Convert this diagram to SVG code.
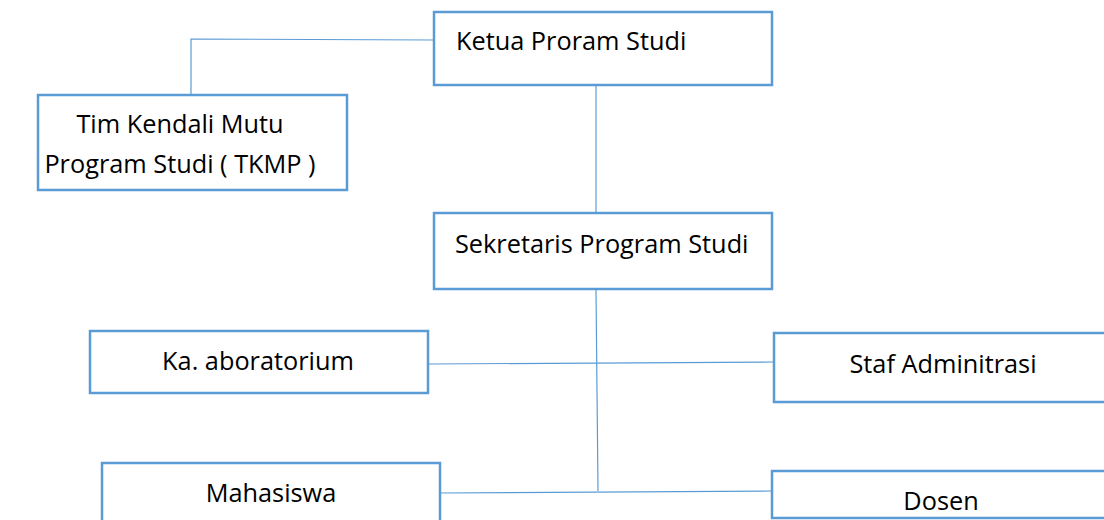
<svg xmlns="http://www.w3.org/2000/svg" width="1104" height="520" viewBox="0 0 1104 520">
<style>
.box{fill:#fff;stroke:#5b9bd5;stroke-width:2.5}
.ln{fill:none;stroke:#5b9bd5;stroke-width:1.2}
text{font-family:"Open Sans","Liberation Sans",sans-serif;font-size:25.3px;fill:#000}
.c{text-anchor:middle}
</style>
<rect width="1104" height="520" fill="#fff"/>
<g id="connectors">
<polyline class="ln" points="433,40 191,39 191,95"/>
<line class="ln" x1="596" y1="86" x2="596" y2="212"/>
<line class="ln" x1="596" y1="290" x2="598" y2="491"/>
<line class="ln" x1="428" y1="364" x2="773" y2="362"/>
<line class="ln" x1="440" y1="493" x2="772" y2="491"/>
</g>
<g id="ketua">
<rect class="box" x="434" y="12" width="338" height="73"/>
<text x="456" y="50">Ketua Proram Studi</text>
</g>
<g id="tkmp">
<rect class="box" x="38" y="95" width="309" height="95"/>
<text class="c" x="180" y="133">Tim Kendali Mutu</text>
<text class="c" x="180" y="173">Program Studi ( TKMP )</text>
</g>
<g id="sekretaris">
<rect class="box" x="434" y="213" width="338" height="76"/>
<text x="455" y="253">Sekretaris Program Studi</text>
</g>
<g id="kalab">
<rect class="box" x="90" y="331" width="338" height="62"/>
<text class="c" x="258" y="370">Ka. aboratorium</text>
</g>
<g id="staf">
<rect class="box" x="774" y="333" width="340" height="69"/>
<text class="c" x="943" y="373">Staf Adminitrasi</text>
</g>
<g id="mahasiswa">
<rect class="box" x="102" y="463" width="338" height="70"/>
<text class="c" x="271" y="502">Mahasiswa</text>
</g>
<g id="dosen">
<rect class="box" x="772" y="471" width="340" height="47"/>
<text class="c" x="941" y="510">Dosen</text>
</g>
</svg>
